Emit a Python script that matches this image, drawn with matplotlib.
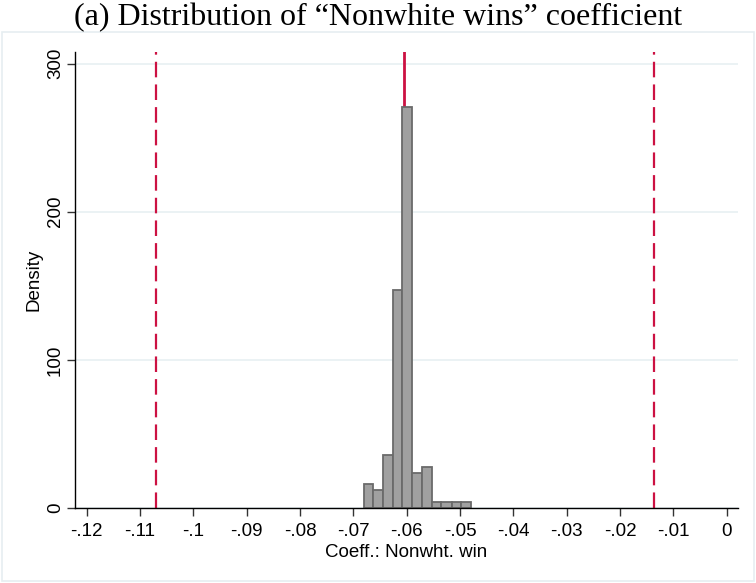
import matplotlib
matplotlib.use("Agg")
import matplotlib.pyplot as plt
from matplotlib.patches import Rectangle

# ---- data ----
bin_edges = [-0.0681, -0.0663, -0.0644, -0.0626, -0.0608, -0.0590,
             -0.0571, -0.0553, -0.0535, -0.0516, -0.0498, -0.0480]
densities = [15.9, 11.9, 35.8, 147.3, 270.7, 23.9, 27.9, 4.0, 4.0, 4.0, 4.0]
point_estimate = -0.0605
ci_low, ci_high = -0.1070, -0.0137
xticks = [-0.12, -0.11, -0.10, -0.09, -0.08, -0.07, -0.06, -0.05,
          -0.04, -0.03, -0.02, -0.01, 0.0]
xtick_labels = ["-.12", "-.11", "-.1", "-.09", "-.08", "-.07", "-.06",
                "-.05", "-.04", "-.03", "-.02", "-.01", "0"]
yticks = [0, 100, 200, 300]
title = "(a) Distribution of \u201cNonwhite wins\u201d coefficient"
xlabel = "Coeff.: Nonwht. win"
ylabel = "Density"

W, H = 756, 583
fig = plt.figure(figsize=(W / 100, H / 100), dpi=100)
fig.patch.set_facecolor("white")

# outer graph-region frame
fig.patches.append(Rectangle((2 / W, 1 - 581 / H), 752 / W, 549 / H,
                             transform=fig.transFigure, fill=False,
                             edgecolor="#e6eef1", linewidth=1.2))

ax = fig.add_axes([75 / W, 1 - 508 / H, 663 / W, 456.3 / H])
ax.set_xlim(-0.1222, 0.0021)
ax.set_ylim(0, 308)

ax.set_yticks(yticks)
ax.grid(axis="y", color="#e8f0f2", linewidth=1.2, zorder=0)
ax.set_axisbelow(True)

red = "#cc1142"
ax.axvline(point_estimate, color=red, linewidth=2.0, zorder=1)
for v in (ci_low, ci_high):
    ax.axvline(v, color=red, linewidth=1.6, dashes=[7.0, 3.2], zorder=1)

widths = [bin_edges[i + 1] - bin_edges[i] for i in range(len(densities))]
ax.bar(bin_edges[:-1], densities, width=widths, align="edge",
       color="#a0a0a0", edgecolor="#6a6a6a", linewidth=1.3, zorder=2)

ax.set_xticks(xticks)
ax.set_xticklabels(xtick_labels)
for s in ("top", "right"):
    ax.spines[s].set_visible(False)
for s in ("left", "bottom"):
    ax.spines[s].set_color("#000000")
    ax.spines[s].set_linewidth(1.0)

ax.tick_params(axis="both", length=6, width=1.0, color="#333333",
               labelsize=13.5)
ax.tick_params(axis="x", pad=5)
ax.tick_params(axis="y", pad=2)
for lab in ax.get_xticklabels():
    lab.set_fontfamily("Liberation Sans")
for lab in ax.get_yticklabels():
    lab.set_fontfamily("Liberation Sans")
    lab.set_rotation(90)
    lab.set_va("center")

ax.set_xlabel(xlabel, fontfamily="Liberation Sans", fontsize=13.5, labelpad=3)
ax.set_ylabel(ylabel, fontfamily="Liberation Sans", fontsize=13.5, labelpad=3)

fig.text(0.5, 1 - 25 / H, title, ha="center", va="baseline",
         fontfamily="Liberation Serif", fontsize=23)

fig.savefig("out.png", dpi=100)
